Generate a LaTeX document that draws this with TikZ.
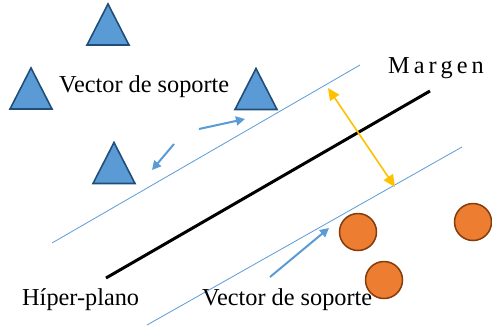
\documentclass[tikz,border=0pt]{standalone}
\usepackage{fontspec}
\setmainfont{Liberation Serif}
\newfontfamily\tnr{Liberation Serif}
\usetikzlibrary{arrows.meta}
\definecolor{triblue}{HTML}{5B9BD5}
\definecolor{tridark}{HTML}{1F4E79}
\definecolor{dotor}{HTML}{ED7D31}
\definecolor{dotdark}{HTML}{843C0C}
\definecolor{margold}{HTML}{FFC000}
\newcommand{\mgap}{\hspace{4pt}}
\begin{document}
\begin{tikzpicture}[x=1pt,y=-1pt,
  tri/.pic={\draw[fill=triblue,draw=tridark,line width=1.6pt,line join=miter] (-21,20.5)--(0,-20.5)--(21,20.5)--cycle;},
  dot/.style={circle,minimum size=37pt,inner sep=0pt,fill=dotor,draw=dotdark,line width=1.5pt},
  lbl/.style={font=\tnr\fontsize{24.3}{27}\selectfont,inner sep=0pt,anchor=base west},
  sv/.style={draw=triblue,line width=0.8pt},
  hyper/.style={draw=black,line width=3pt},
  marg/.style={draw=margold,line width=1.6pt,{Triangle[length=12pt,width=11pt]}-{Triangle[length=12pt,width=11pt]}},
  ptr/.style={draw=triblue,line width=2pt,-{Triangle[length=9pt,width=9pt]}}]
\useasboundingbox (0,0) rectangle (492,325);
% triangles
\pic at (108,24.5) {tri};
\pic at (31,88.5) {tri};
\pic at (114,163) {tri};
\pic at (256,89) {tri};
% lines
\coordinate (h1) at (106,278); \coordinate (h2) at (430,91);
\coordinate (u1) at (52,243); \coordinate (u2) at (360,65);
\coordinate (l1) at (147,325); \coordinate (l2) at (462,147);
\draw[sv] (u1) -- (u2);
\draw[sv] (l1) -- (l2);
\draw[hyper] (h1) -- (h2);
% circles
\node[dot] (c1) at (358,232) {};
\node[dot] (c2) at (384,280) {};
\node[dot] (c3) at (473,222) {};
% margin arrow
\coordinate (m1) at (328,88); \coordinate (m2) at (395,187);
\draw[marg] (m1) -- (m2);
% pointer arrows
\coordinate (a1s) at (199,129); \coordinate (a1e) at (245,119);
\coordinate (a2s) at (174,144); \coordinate (a2e) at (152,170);
\coordinate (a3s) at (270,277); \coordinate (a3e) at (329,228);
\draw[ptr] (a1s) -- (a1e);
\draw[ptr] (a2s) -- (a2e);
\draw[ptr] (a3s) -- (a3e);
% labels
\node[lbl] (t1) at (59,92) {Vector de soporte};
\node[lbl] (t2) at (22,305) {Híper-plano};
\node[lbl] (t3) at (202,305) {Vector de soporte};
\node[lbl] (t4) at (388,73) {M\mgap a\mgap r\mgap g\mgap e\mgap n};
\end{tikzpicture}
\end{document}
